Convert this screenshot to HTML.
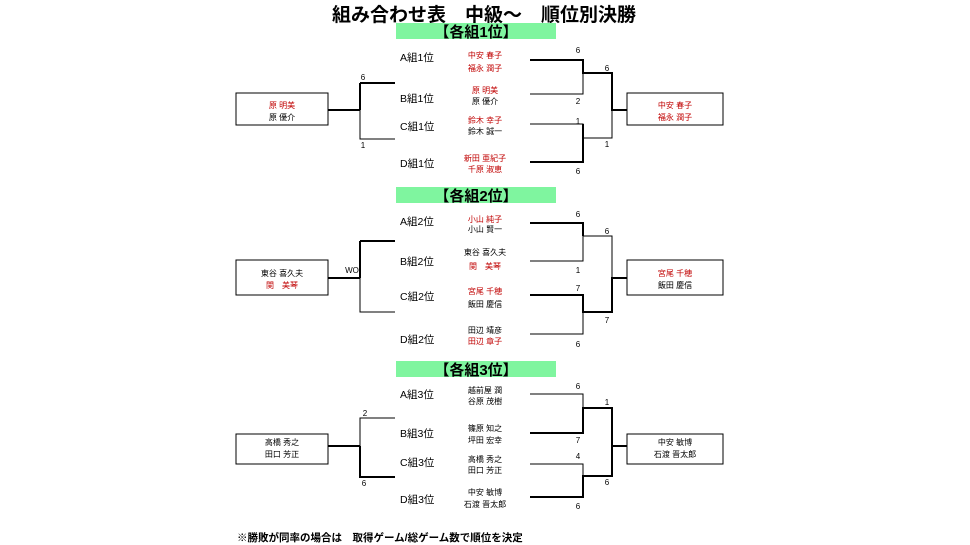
<!DOCTYPE html>
<html><head><meta charset="utf-8"><style>
html,body{margin:0;padding:0;background:#fff;width:970px;height:545px;overflow:hidden}
svg{display:block}
text{font-family:"Liberation Sans","Noto Sans CJK JP",sans-serif}
.t{font-size:19px;font-weight:bold}
.h{font-size:15px;font-weight:bold}
.g{font-size:10.5px}
.n{font-size:8px}
.r{fill:#c00000}
.s{font-size:8px}
.f{font-size:10.5px;font-weight:bold}
</style></head><body>
<svg width="970" height="545" viewBox="0 0 970 545" xmlns="http://www.w3.org/2000/svg">
<text x="484" y="21" class="t" text-anchor="middle">組み合わせ表　中級～　順位別決勝</text>
<g fill="#7ff59f"><rect x="396" y="23" width="160" height="16"/><rect x="396" y="187" width="160" height="16"/><rect x="396" y="361" width="160" height="16"/></g>
<g class="h" text-anchor="middle"><text x="476" y="37">【各組1位】</text><text x="476" y="201">【各組2位】</text><text x="476" y="375">【各組3位】</text></g>

<g fill="none" stroke="#000">
<!-- section 1 -->
<rect x="236" y="93" width="92" height="32" stroke-width="1"/>
<rect x="627" y="93" width="96" height="32" stroke-width="1"/>
<path d="M328 110H360M360 83V110M360 83H395" stroke-width="2"/>
<path d="M360 110V139H395" stroke-width="1"/>
<path d="M530 60H583V73H612V110H627M530 162H583V124" stroke-width="2"/>
<path d="M530 94H583V73M530 124H583V138H612V110" stroke-width="1"/>
<!-- section 2 -->
<rect x="236" y="260" width="92" height="35" stroke-width="1"/>
<rect x="627" y="260" width="96" height="35" stroke-width="1"/>
<path d="M328 278H360M360 241V278M360 241H395" stroke-width="2"/>
<path d="M360 278V312H395" stroke-width="1"/>
<path d="M530 223H583V236M530 295H583V312H612V278H627" stroke-width="2"/>
<path d="M583 236V261H530M583 312V334H530M583 236H612V278" stroke-width="1"/>
<!-- section 3 -->
<rect x="236" y="434" width="92" height="30" stroke-width="1"/>
<rect x="627" y="434" width="96" height="30" stroke-width="1"/>
<path d="M328 446H360M360 446V477H395" stroke-width="2"/>
<path d="M360 446V418H395" stroke-width="1"/>
<path d="M530 433H583V408H612V476H583V497H530M612 446H627" stroke-width="2"/>
<path d="M530 394H583V408M530 464H583V476" stroke-width="1"/>
</g>

<g class="g">
<text x="400" y="61">A組1位</text><text x="400" y="102">B組1位</text><text x="400" y="130">C組1位</text><text x="400" y="167">D組1位</text>
<text x="400" y="225">A組2位</text><text x="400" y="265">B組2位</text><text x="400" y="300">C組2位</text><text x="400" y="343">D組2位</text>
<text x="400" y="398">A組3位</text><text x="400" y="437">B組3位</text><text x="400" y="466">C組3位</text><text x="400" y="503">D組3位</text>
</g>

<g class="n" text-anchor="middle">
<text x="485" y="58" class="r">中安 春子</text><text x="485" y="71" class="r">福永 潤子</text>
<text x="485" y="93" class="r">原 明美</text><text x="485" y="104">原 優介</text>
<text x="485" y="123" class="r">鈴木 幸子</text><text x="485" y="134">鈴木 誠一</text>
<text x="485" y="161" class="r">新田 亜紀子</text><text x="485" y="172" class="r">千原 淑恵</text>
<text x="282" y="108" class="r">原 明美</text><text x="282" y="120">原 優介</text>
<text x="675" y="108" class="r">中安 春子</text><text x="675" y="120" class="r">福永 潤子</text>

<text x="485" y="222" class="r">小山 純子</text><text x="485" y="232">小山 賢一</text>
<text x="485" y="255">東谷 喜久夫</text><text x="485" y="269" class="r">関　美琴</text>
<text x="485" y="294" class="r">宮尾 千穂</text><text x="485" y="307">飯田 慶信</text>
<text x="485" y="333">田辺 靖彦</text><text x="485" y="344" class="r">田辺 章子</text>
<text x="282" y="276">東谷 喜久夫</text><text x="282" y="288" class="r">関　美琴</text>
<text x="675" y="276" class="r">宮尾 千穂</text><text x="675" y="288">飯田 慶信</text>

<text x="485" y="393">越前屋 潤</text><text x="485" y="404">谷原 茂樹</text>
<text x="485" y="431">篠原 知之</text><text x="485" y="443">坪田 宏幸</text>
<text x="485" y="462">高橋 秀之</text><text x="485" y="473">田口 芳正</text>
<text x="485" y="495">中安 敏博</text><text x="485" y="507">石渡 晋太郎</text>
<text x="282" y="445">高橋 秀之</text><text x="282" y="457">田口 芳正</text>
<text x="675" y="445">中安 敏博</text><text x="675" y="457">石渡 晋太郎</text>
</g>

<g class="s" text-anchor="middle">
<text x="363" y="80">6</text><text x="363" y="148">1</text>
<text x="578" y="53">6</text><text x="578" y="104">2</text><text x="578" y="124">1</text><text x="578" y="174">6</text>
<text x="607" y="71">6</text><text x="607" y="147">1</text>
<text x="352" y="273">WO</text>
<text x="578" y="217">6</text><text x="578" y="273">1</text><text x="578" y="291">7</text><text x="578" y="347">6</text>
<text x="607" y="234">6</text><text x="607" y="323">7</text>
<text x="365" y="416">2</text><text x="364" y="486">6</text>
<text x="578" y="389">6</text><text x="578" y="443">7</text><text x="578" y="459">4</text><text x="578" y="509">6</text>
<text x="607" y="405">1</text><text x="607" y="485">6</text>
</g>

<text x="237" y="541" class="f">※勝敗が同率の場合は　取得ゲーム/総ゲーム数で順位を決定</text>
</svg>
</body></html>
